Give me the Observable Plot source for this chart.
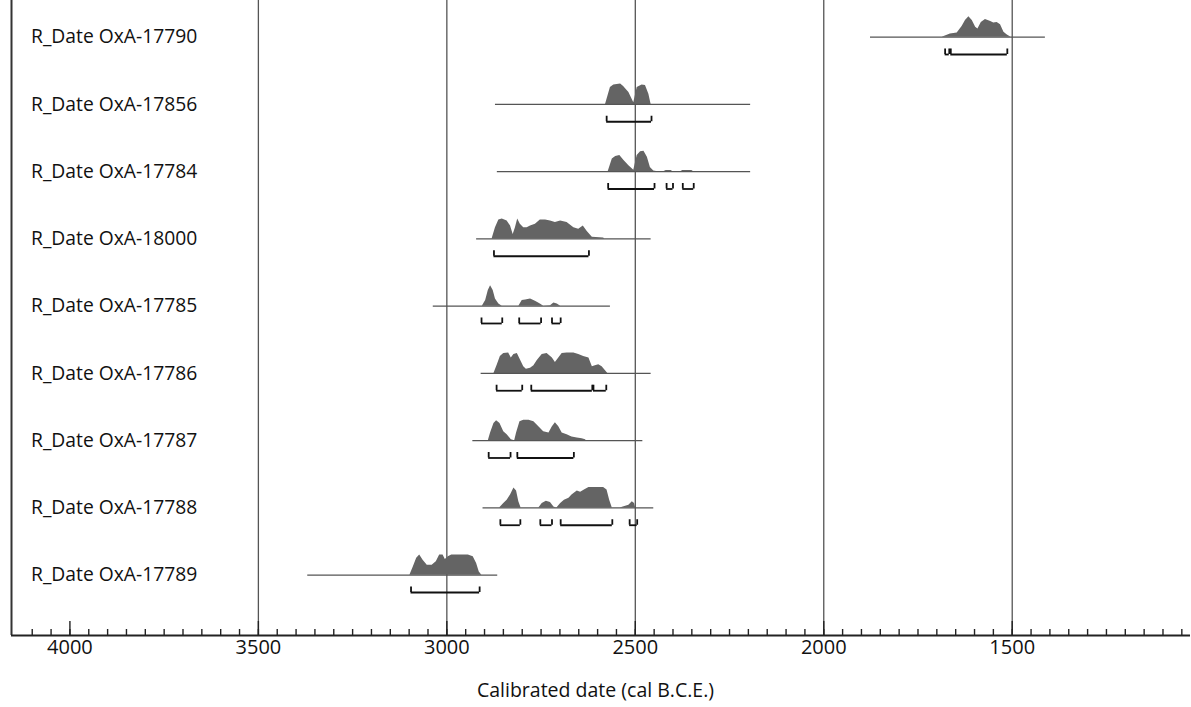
<!DOCTYPE html>
<html><head><meta charset="utf-8">
<script src="https://cdn.jsdelivr.net/npm/d3@7"></script>
<script src="https://cdn.jsdelivr.net/npm/@observablehq/plot@0.6"></script>
<style>body{margin:0;background:#fff}</style>
</head><body><div id="chart"></div>
<script>
// Sample labels, top to bottom
const labels = ["R_Date OxA-17790","R_Date OxA-17856","R_Date OxA-17784","R_Date OxA-18000","R_Date OxA-17785","R_Date OxA-17786","R_Date OxA-17787","R_Date OxA-17788","R_Date OxA-17789"];
// Extent of the thin line behind each distribution (cal BCE)
const lineStart = [1876, 2871, 2866, 2921, 3036, 2909, 2931, 2904, 3369];
const lineEnd   = [1412, 2194, 2194, 2458, 2566, 2458, 2480, 2451, 2865];
// Highest posterior density ranges (brackets), [from, to] cal BCE
const ranges17790 = [[1678,1667],[1663,1513]];
const ranges17856 = [[2576,2457]];
const ranges17784 = [[2572,2449],[2417,2400],[2374,2345]];
const ranges18000 = [[2875,2623]];
const ranges17785 = [[2908,2853],[2808,2750],[2721,2698]];
const ranges17786 = [[2868,2800],[2776,2614],[2611,2577]];
const ranges17787 = [[2889,2831],[2813,2663]];
const ranges17788 = [[2858,2805],[2752,2721],[2698,2561],[2515,2495]];
const ranges17789 = [[3095,2913]];
// Probability distributions: [year cal BCE, relative probability]
const dens17790 = [[1686,0],[1664,.16],[1646,.21],[1633,.52],[1624,.81],[1615,1],[1606,.81],[1597,.48],[1591,.4],[1582,.72],[1571,.86],[1557,.77],[1549,.69],[1540,.72],[1531,.61],[1522,.24],[1513,.11],[1503,0]];
const dens17856 = [[2579,0],[2566,.83],[2557,.95],[2539,1],[2531,.87],[2517,.58],[2504,.08],[2495,.83],[2482,.95],[2473,.92],[2464,.5],[2458,0]];
const dens17784 = [[2572,0],[2561,.62],[2552,.74],[2541,.79],[2530,.54],[2517,.29],[2504,.07],[2495,.79],[2486,.97],[2477,1],[2468,.71],[2460,.2],[2451,.03],[2440,0],[2425,0],[2418,.06],[2405,.06],[2400,0],[2380,0],[2374,.06],[2350,.06],[2345,0]];
const dens18000 = [[2880,0],[2871,.55],[2862,.92],[2853,.97],[2840,.88],[2831,.63],[2824,.22],[2818,.55],[2812,.97],[2805,.72],[2796,.55],[2787,.55],[2778,.63],[2765,.72],[2752,.92],[2738,.92],[2725,.88],[2712,.8],[2698,.88],[2681,.8],[2663,.55],[2650,.47],[2638,.63],[2628,.38],[2614,.08],[2584,.05],[2581,0]];
const dens17785 = [[2906,0],[2897,.28],[2890,.76],[2884,1],[2877,.76],[2871,.35],[2862,.11],[2853,0],[2809,0],[2800,.28],[2791,.3],[2778,.35],[2765,.24],[2752,.11],[2743,0],[2725,.02],[2716,.15],[2707,.11],[2698,0]];
const dens17786 = [[2875,0],[2866,.42],[2858,.83],[2849,.97],[2836,1],[2829,.75],[2822,.92],[2813,.97],[2805,.67],[2796,.33],[2789,.2],[2778,.25],[2769,.37],[2760,.63],[2747,.92],[2734,.97],[2720,.75],[2712,.53],[2703,.75],[2694,.97],[2681,1],[2663,1],[2650,.92],[2637,.83],[2623,.75],[2614,.33],[2606,.37],[2597,.42],[2588,.33],[2579,.13],[2573,0]];
const dens17787 = [[2890,0],[2884,.37],[2875,.84],[2868,.97],[2859,.84],[2849,.44],[2840,.29],[2829,.05],[2820,0],[2815,.37],[2806,.92],[2796,1],[2782,1],[2769,.92],[2756,.68],[2743,.44],[2729,.37],[2720,.68],[2712,.87],[2703,.68],[2694,.37],[2681,.29],[2668,.18],[2654,.13],[2641,.1],[2632,.05],[2630,0]];
const dens17788 = [[2860,0],[2849,.22],[2840,.38],[2831,.63],[2822,.97],[2815,.83],[2809,.3],[2803,0],[2756,0],[2747,.22],[2736,.33],[2725,.27],[2716,.05],[2709,0],[2707,.02],[2698,.22],[2688,.38],[2676,.47],[2668,.63],[2654,.83],[2645,.77],[2635,.88],[2623,1],[2610,1],[2597,1],[2584,1],[2575,.88],[2568,.38],[2561,0],[2540,0],[2532,.05],[2517,.13],[2508,.3],[2502,.22],[2499,0]];
const dens17789 = [[3098,0],[3089,.4],[3080,.82],[3072,.98],[3063,.73],[3052,.48],[3039,.48],[3028,.65],[3019,.98],[3010,.98],[3004,.77],[2996,.9],[2987,.98],[2965,.98],[2943,.98],[2930,.9],[2921,.57],[2914,.15],[2907,0]];
// Axis
const gridYears  = [3500, 3000, 2500, 2000, 1500];
const majorYears = [4000, 3500, 3000, 2500, 2000, 1500];
const minorYears = d3.range(4100, 1049, -50);
const xTitle = "Calibrated date (cal B.C.E.)";

const allDens = [dens17790,dens17856,dens17784,dens18000,dens17785,dens17786,dens17787,dens17788,dens17789];
const allRanges = [ranges17790,ranges17856,ranges17784,ranges18000,ranges17785,ranges17786,ranges17787,ranges17788,ranges17789];

const rows = labels.map((label, i) => ({label, i, start: lineStart[i], end: lineEnd[i]}));
const densData = allDens.flatMap((arr, i) => arr.map(([year, h]) => ({i, year, h})));
const rangeData = allRanges.flatMap((arr, i) => arr.map(([from, to]) => ({i, from, to})));
const rangeEnds = rangeData.flatMap(d => [{i: d.i, year: d.from}, {i: d.i, year: d.to}]);

const PX = 635 / (8.897 + 0.5457);   // px per row unit
const H = 20.5 / PX;                  // peak height
const B = 17.3 / PX;                  // bracket offset below baseline
const T = 5.5 / PX;                   // bracket end tick height

const chart = Plot.plot({
  width: 1191, height: 707,
  marginTop: 0, marginBottom: 72, marginLeft: 11, marginRight: 1,
  x: {domain: [4155, 1027], range: [11, 1190], axis: null},
  y: {domain: [-0.5457, 8.897], range: [0, 635], axis: null},
  style: {fontFamily: "'Open Sans', sans-serif", background: "#fff", color: "#111"},
  marks: [
    Plot.ruleX(gridYears, {stroke: "#555", strokeWidth: 1.3}),
    Plot.areaY(densData, {x: "year", y1: "i", y2: d => d.i - d.h * H, z: "i", fill: "#646464", curve: "linear"}),
    Plot.ruleY(rows, {y: "i", x1: "start", x2: "end", stroke: "#555", strokeWidth: 1.2}),
    Plot.ruleY(rangeData, {y: d => d.i + B, x1: "from", x2: "to", stroke: "#111", strokeWidth: 1.8}),
    Plot.ruleX(rangeEnds, {x: "year", y1: d => d.i + B, y2: d => d.i + B - T, stroke: "#111", strokeWidth: 1.8}),
    Plot.text(rows, {y: "i", text: "label", frameAnchor: "left", dx: 19.5, dy: 0, textAnchor: "start", fontSize: 19.3, fill: "#111"}),
    Plot.ruleX(minorYears, {insetTop: 629, stroke: "#222", strokeWidth: 1.4}),
    Plot.ruleX(majorYears, {insetTop: 621, stroke: "#222", strokeWidth: 1.4}),
    Plot.ruleX([4155], {stroke: "#333", strokeWidth: 2}),
    Plot.ruleY([8.897], {stroke: "#222", strokeWidth: 2}),
    Plot.text(majorYears, {x: d => d, text: d => String(d), frameAnchor: "bottom", dy: 18, fontSize: 20, fill: "#111"}),
    Plot.text([xTitle], {frameAnchor: "bottom", dx: -5.5, dy: 61, fontSize: 19.5, fill: "#111"})
  ]
});
document.getElementById("chart").appendChild(chart);
</script>
</body></html>
